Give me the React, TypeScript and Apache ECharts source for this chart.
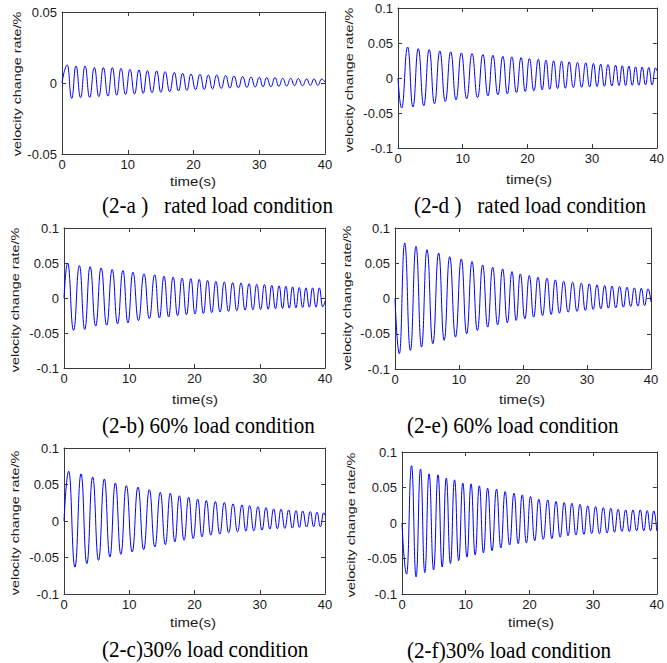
import React, { useEffect, useRef } from "react";
import * as echarts from "echarts";

const xTickValues = [0, 10, 20, 30, 40];
const yAxisTitle = "velocity change rate/%";
const xAxisTitle = "time(s)";

// (2-a) rated load
const aPeakT = [0.81, 2.13, 3.5, 4.92, 6.29, 7.66, 8.97, 10.34, 11.71, 12.98, 14.4, 15.67, 17.08, 18.35, 19.62, 20.99, 22.26, 23.52, 24.89, 26.16, 27.48, 28.75, 30.01, 31.13, 32.4, 33.56, 34.78, 35.94, 37.21, 38.33, 39.49];
const aPeakV = [0.0127, 0.012, 0.012, 0.011, 0.0108, 0.0108, 0.0103, 0.0096, 0.0092, 0.0087, 0.0085, 0.008, 0.0075, 0.0068, 0.0063, 0.0061, 0.0056, 0.0056, 0.0052, 0.0049, 0.0045, 0.0042, 0.004, 0.0038, 0.0038, 0.0033, 0.0033, 0.0031, 0.0028, 0.0028, 0.0028];
const aTroughT = [1.47, 2.82, 4.21, 5.61, 6.98, 8.32, 9.66, 11.03, 12.35, 13.69, 15.04, 16.38, 17.72, 18.99, 20.31, 21.63, 22.89, 24.21, 25.53, 26.82, 28.12, 29.38, 30.57, 31.77, 32.98, 34.17, 35.36, 36.58, 37.77, 38.91];
const aTroughV = [-0.0108, -0.0103, -0.0101, -0.0096, -0.0092, -0.0085, -0.008, -0.0077, -0.0073, -0.0068, -0.0066, -0.0061, -0.0056, -0.0052, -0.0047, -0.0045, -0.0042, -0.0038, -0.0035, -0.0033, -0.0031, -0.0028, -0.0026, -0.0026, -0.0023, -0.0021, -0.0019, -0.0019, -0.0016, -0.0016];
const aEndV = 0.0005;

// (2-d) rated load
const dPeakT = [1.49, 3.13, 4.82, 6.46, 8.15, 9.79, 11.44, 13.13, 14.67, 16.21, 17.59, 19.03, 20.31, 21.69, 22.87, 24.05, 25.28, 26.46, 27.74, 29.03, 30.21, 31.33, 32.46, 33.64, 34.67, 35.69, 36.72, 37.74, 38.77, 39.79];
const dPeakV = [0.0443, 0.042, 0.0406, 0.0387, 0.0373, 0.0358, 0.0349, 0.0335, 0.0325, 0.0311, 0.0302, 0.0292, 0.0278, 0.0269, 0.0255, 0.0245, 0.0241, 0.0231, 0.0222, 0.0217, 0.0208, 0.0198, 0.0193, 0.0184, 0.0175, 0.017, 0.016, 0.0156, 0.0151, 0.0146];
const dTroughT = [0.56, 2.31, 3.98, 5.64, 7.31, 8.97, 10.62, 12.29, 13.9, 15.44, 16.9, 18.31, 19.67, 21.0, 22.28, 23.46, 24.67, 25.87, 27.1, 28.39, 29.62, 30.77, 31.9, 33.05, 34.16, 35.18, 36.21, 37.23, 38.26, 39.28];
const dTroughV = [-0.0429, -0.0415, -0.0396, -0.0368, -0.0335, -0.0311, -0.0297, -0.0278, -0.0255, -0.0241, -0.0226, -0.0208, -0.0193, -0.0184, -0.017, -0.016, -0.0151, -0.0146, -0.0137, -0.0132, -0.0127, -0.0123, -0.0118, -0.0113, -0.0108, -0.0108, -0.0104, -0.0104, -0.0099, -0.0099];
const dEndV = 0.01;

// (2-b) 60% load
const bPeakT = [0.56, 2.36, 4.0, 5.69, 7.38, 9.03, 10.56, 12.26, 13.9, 15.33, 16.72, 18.1, 19.44, 20.72, 22.0, 23.28, 24.56, 25.85, 27.13, 28.36, 29.54, 30.72, 31.85, 32.97, 34.0, 35.03, 36.05, 37.08, 38.1, 39.13];
const bPeakV = [0.05, 0.0463, 0.0449, 0.043, 0.0407, 0.0393, 0.0369, 0.0346, 0.0332, 0.0313, 0.0299, 0.0285, 0.0276, 0.0266, 0.0252, 0.0238, 0.0229, 0.022, 0.0215, 0.0206, 0.0196, 0.0192, 0.0182, 0.0173, 0.0168, 0.0159, 0.015, 0.0145, 0.0145, 0.0145];
const bTroughT = [1.46, 3.18, 4.85, 6.54, 8.21, 9.8, 11.41, 13.08, 14.62, 16.03, 17.41, 18.77, 20.08, 21.36, 22.64, 23.92, 25.21, 26.49, 27.75, 28.95, 30.13, 31.29, 32.41, 33.49, 34.52, 35.54, 36.57, 37.59, 38.62, 39.64];
const bTroughV = [-0.0463, -0.0449, -0.0402, -0.0388, -0.0369, -0.0355, -0.0322, -0.0294, -0.0285, -0.0271, -0.0252, -0.0238, -0.0229, -0.022, -0.021, -0.0201, -0.0192, -0.0182, -0.0173, -0.0168, -0.0164, -0.0159, -0.0154, -0.015, -0.0145, -0.014, -0.0136, -0.0131, -0.0131, -0.0126];
const bEndV = -0.004;

// (2-e) 60% load
const ePeakT = [1.51, 3.28, 5.0, 6.82, 8.54, 10.36, 12.03, 13.7, 15.26, 16.82, 18.28, 19.58, 20.99, 22.34, 23.75, 25.05, 26.35, 27.76, 29.11, 30.36, 31.56, 32.76, 33.91, 35.1, 36.25, 37.4, 38.49, 39.53];
const ePeakV = [0.0788, 0.0741, 0.0693, 0.0646, 0.0594, 0.0561, 0.0524, 0.0476, 0.0443, 0.042, 0.0382, 0.0349, 0.0325, 0.0302, 0.0288, 0.0264, 0.0245, 0.0231, 0.0217, 0.0208, 0.0193, 0.0184, 0.0175, 0.017, 0.016, 0.0151, 0.0146, 0.0137];
const eTroughT = [0.68, 2.4, 4.14, 5.91, 7.68, 9.45, 11.2, 12.87, 14.48, 16.04, 17.55, 18.93, 20.29, 21.67, 23.05, 24.4, 25.7, 27.06, 28.44, 29.74, 30.96, 32.16, 33.34, 34.5, 35.68, 36.83, 37.95, 39.01];
const eTroughV = [-0.0783, -0.0736, -0.0689, -0.0642, -0.0594, -0.0547, -0.05, -0.0453, -0.0406, -0.0373, -0.0344, -0.0311, -0.0288, -0.0264, -0.0241, -0.0226, -0.0208, -0.0193, -0.0184, -0.017, -0.0156, -0.0146, -0.0137, -0.0132, -0.0123, -0.0113, -0.0108, -0.0099];
const eEndV = -0.005;

// (2-c) 30% load
const cPeakT = [0.72, 2.61, 4.39, 6.18, 7.87, 9.55, 11.34, 13.08, 14.76, 16.3, 17.68, 19.11, 20.49, 21.81, 23.19, 24.57, 25.9, 27.28, 28.45, 29.73, 30.96, 32.13, 33.26, 34.43, 35.56, 36.58, 37.75, 38.77, 39.8];
const cPeakV = [0.0682, 0.0645, 0.0604, 0.0576, 0.0521, 0.0484, 0.0465, 0.0429, 0.0392, 0.0382, 0.0346, 0.0327, 0.03, 0.0281, 0.0267, 0.0253, 0.0235, 0.0221, 0.0212, 0.0198, 0.0184, 0.0166, 0.0161, 0.0152, 0.0143, 0.0138, 0.0129, 0.012, 0.0112];
const cTroughT = [1.67, 3.5, 5.29, 7.03, 8.71, 10.45, 12.21, 13.92, 15.53, 16.99, 18.4, 19.8, 21.15, 22.5, 23.88, 25.24, 26.59, 27.87, 29.09, 30.35, 31.55, 32.7, 33.85, 35.0, 36.07, 37.17, 38.26, 39.29];
const cTroughV = [-0.0631, -0.0585, -0.0539, -0.0493, -0.0456, -0.0424, -0.0392, -0.0355, -0.0323, -0.0286, -0.0263, -0.024, -0.0217, -0.0194, -0.018, -0.0161, -0.0147, -0.0138, -0.0134, -0.0124, -0.0111, -0.0106, -0.0101, -0.0097, -0.0088, -0.0083, -0.0078, -0.0078];
const cEndV = 0.008;

// (2-f) 30% load
const fPeakT = [1.5, 2.91, 4.25, 5.66, 6.95, 8.25, 9.55, 10.84, 12.14, 13.44, 14.84, 16.19, 17.59, 18.88, 20.18, 21.48, 22.88, 24.18, 25.47, 26.67, 27.96, 29.16, 30.4, 31.6, 32.79, 33.93, 35.12, 36.26, 37.41, 38.5, 39.53];
const fPeakV = [0.0807, 0.076, 0.0693, 0.0679, 0.0632, 0.0608, 0.0561, 0.0552, 0.0524, 0.0491, 0.0476, 0.0443, 0.042, 0.0396, 0.0373, 0.0335, 0.0325, 0.0302, 0.0288, 0.0278, 0.0264, 0.0241, 0.0231, 0.0217, 0.0208, 0.0193, 0.0184, 0.0184, 0.0184, 0.0175, 0.017];
const fTroughT = [0.73, 2.21, 3.58, 4.96, 6.31, 7.6, 8.9, 10.2, 11.49, 12.79, 14.14, 15.52, 16.89, 18.24, 19.53, 20.83, 22.18, 23.53, 24.83, 26.07, 27.32, 28.56, 29.78, 31.0, 32.2, 33.36, 34.53, 35.69, 36.84, 37.96, 39.02];
const fTroughV = [-0.072, -0.076, -0.07, -0.066, -0.062, -0.057, -0.053, -0.048, -0.045, -0.042, -0.039, -0.035, -0.031, -0.029, -0.028, -0.025, -0.023, -0.022, -0.02, -0.018, -0.017, -0.016, -0.015, -0.015, -0.014, -0.013, -0.012, -0.012, -0.011, -0.011, -0.011];
const fEndV = -0.011;

const panelData = [
  { caption: "(2-a )   rated load condition", pt: aPeakT, pv: aPeakV, tt: aTroughT, tv: aTroughV, end: aEndV, yMin: -0.05, yMax: 0.05 },
  { caption: "(2-d )   rated load condition", pt: dPeakT, pv: dPeakV, tt: dTroughT, tv: dTroughV, end: dEndV, yMin: -0.1, yMax: 0.1 },
  { caption: "(2-b) 60% load condition", pt: bPeakT, pv: bPeakV, tt: bTroughT, tv: bTroughV, end: bEndV, yMin: -0.1, yMax: 0.1 },
  { caption: "(2-e) 60% load condition", pt: ePeakT, pv: ePeakV, tt: eTroughT, tv: eTroughV, end: eEndV, yMin: -0.1, yMax: 0.1 },
  { caption: "(2-c)30% load condition", pt: cPeakT, pv: cPeakV, tt: cTroughT, tv: cTroughV, end: cEndV, yMin: -0.1, yMax: 0.1 },
  { caption: "(2-f)30% load condition", pt: fPeakT, pv: fPeakV, tt: fTroughT, tv: fTroughV, end: fEndV, yMin: -0.1, yMax: 0.1 },
];

// layout (pixels)
const layouts = [
  { grid: { left: 62, top: 12, width: 263, height: 142 }, yName: [17, 84], xName: [193, 182], cap: [102, 205] },
  { grid: { left: 398, top: 8, width: 261, height: 140 }, yName: [349, 80], xName: [529, 180], cap: [414, 205] },
  { grid: { left: 64, top: 228, width: 261, height: 140 }, yName: [15, 300], xName: [195, 400], cap: [102, 425] },
  { grid: { left: 395, top: 228, width: 256, height: 141 }, yName: [347, 298], xName: [522, 400], cap: [407, 425] },
  { grid: { left: 64, top: 448, width: 261, height: 146 }, yName: [15, 523], xName: [193, 623], cap: [102, 649] },
  { grid: { left: 402, top: 452, width: 257, height: 142 }, yName: [351, 525], xName: [531, 623], cap: [407, 650] },
];

const AXIS_COLOR = "#3a3a3a";
const LABEL_COLOR = "#1a1a1a";
const SANS = 'Arial, "Liberation Sans", sans-serif';
const SERIF = '"Times New Roman", "Liberation Serif", serif';

function buildSeriesData(p: any) {
  const pts: [number, number][] = [[0, 0]];
  p.pt.forEach((t: number, i: number) => pts.push([t, p.pv[i]]));
  p.tt.forEach((t: number, i: number) => pts.push([t, p.tv[i]]));
  pts.sort((a, b) => a[0] - b[0]);
  pts.push([40, p.end]);
  return pts;
}

export default function App() {
  const ref = useRef<HTMLDivElement>(null);
  useEffect(() => {
    if (!ref.current) return;
    const chart = echarts.init(ref.current, null, { renderer: "svg" });
    const grids: any[] = [];
    const xAxes: any[] = [];
    const yAxes: any[] = [];
    const series: any[] = [];
    const graphics: any[] = [];
    panelData.forEach((p, i) => {
      const L = layouts[i];
      grids.push({ ...L.grid, show: false, containLabel: false });
      const xBase = {
        type: "value",
        gridIndex: i,
        min: xTickValues[0],
        max: xTickValues[xTickValues.length - 1],
        interval: 10,
        splitLine: { show: false },
        axisLine: { show: true, onZero: false, lineStyle: { color: AXIS_COLOR, width: 1 } },
        axisTick: { show: true, inside: true, length: 4, lineStyle: { color: AXIS_COLOR } },
      };
      xAxes.push({ ...xBase, position: "bottom", axisLabel: { show: true, fontSize: 13, color: LABEL_COLOR, fontFamily: SANS, margin: 4 } });
      xAxes.push({ ...xBase, position: "top", axisLabel: { show: false } });
      const yBase = {
        type: "value",
        gridIndex: i,
        min: p.yMin,
        max: p.yMax,
        interval: 0.05,
        splitLine: { show: false },
        axisLine: { show: true, onZero: false, lineStyle: { color: AXIS_COLOR, width: 1 } },
        axisTick: { show: true, inside: true, length: 4, lineStyle: { color: AXIS_COLOR } },
      };
      yAxes.push({ ...yBase, position: "left", axisLabel: { show: true, fontSize: 13, color: LABEL_COLOR, fontFamily: SANS, margin: 5 } });
      yAxes.push({ ...yBase, position: "right", axisLabel: { show: false } });
      series.push({
        type: "line",
        xAxisIndex: 2 * i,
        yAxisIndex: 2 * i,
        data: buildSeriesData(p),
        showSymbol: false,
        symbol: "none",
        smooth: 0.5,
        smoothMonotone: "x",
        lineStyle: { color: "#0000ff", width: 1 },
        silent: true,
      });
      graphics.push({
        type: "text",
        x: L.yName[0],
        y: L.yName[1],
        rotation: Math.PI / 2,
        scaleX: 1.25,
        style: { text: yAxisTitle, fontSize: 11.5, fontFamily: SANS, fill: LABEL_COLOR, align: "center", verticalAlign: "middle" },
      });
      graphics.push({
        type: "text",
        x: L.xName[0],
        y: L.xName[1],
        scaleX: 1.2,
        style: { text: xAxisTitle, fontSize: 12.5, fontFamily: SANS, fill: LABEL_COLOR, align: "center", verticalAlign: "middle" },
      });
      graphics.push({
        type: "text",
        x: L.cap[0],
        y: L.cap[1],
        scaleX: 0.88,
        style: { text: p.caption, fontSize: 24, fontFamily: SERIF, fill: "#000000", align: "left", verticalAlign: "middle" },
      });
    });
    chart.setOption({
      animation: false,
      backgroundColor: "#ffffff",
      grid: grids,
      xAxis: xAxes,
      yAxis: yAxes,
      series,
      graphic: graphics,
    });
    return () => chart.dispose();
  }, []);
  return <div ref={ref} style={{ position: "absolute", left: 0, top: 0, width: 667, height: 663 }} />;
}
